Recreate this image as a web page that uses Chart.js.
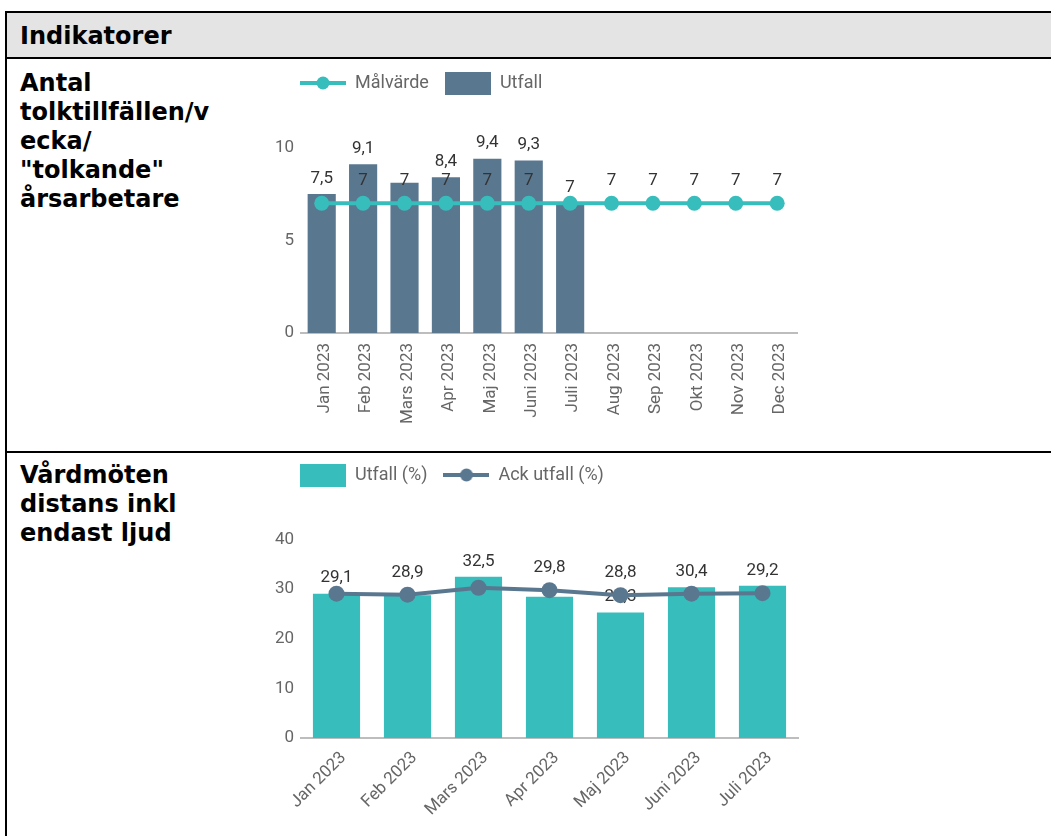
<!DOCTYPE html>
<html>
<head>
<meta charset="utf-8">
<script src="https://cdn.jsdelivr.net/npm/chart.js@4.4.1/dist/chart.umd.min.js"></script>
<style>
  html, body { margin: 0; padding: 0; background: #fff; }
  body { width: 1051px; height: 836px; overflow: hidden; position: relative; }
  .frame { position: absolute; left: 5px; top: 11px; width: 1100px; height: 900px; border: 2px solid #000; box-sizing: border-box; }
  .head { position: absolute; left: 7px; top: 13px; width: 1100px; height: 44px; background: #e4e4e4; }
  .rule { position: absolute; left: 5px; width: 1100px; height: 2px; background: #000; }
  .lbl { position: absolute; left: 20px; font-family: Verdana, "DejaVu Sans", sans-serif; font-weight: bold; font-size: 24px; line-height: 29px; color: #000; white-space: nowrap; }
  canvas { position: absolute; }
</style>
</head>
<body>
<div class="head"></div>
<div class="frame"></div>
<div class="rule" style="top:57px"></div>
<div class="rule" style="top:451px"></div>
<div class="lbl" style="top:22px">Indikatorer</div>
<div class="lbl" style="top:69px">Antal<br>tolktillfällen/v<br>ecka/<br>"tolkande"<br>årsarbetare</div>
<div class="lbl" style="top:461px">Vårdmöten<br>distans inkl<br>endast ljud</div>
<canvas id="c1" width="547" height="396" style="left:261px;top:56px"></canvas>
<canvas id="c2" width="547" height="387" style="left:261px;top:449px"></canvas>
<script>
// ---------- Data: chart 1 ----------
const months1 = ['Jan 2023','Feb 2023','Mars 2023','Apr 2023','Maj 2023','Juni 2023','Juli 2023','Aug 2023','Sep 2023','Okt 2023','Nov 2023','Dec 2023'];
const malvarde = [7, 7, 7, 7, 7, 7, 7, 7, 7, 7, 7, 7];
const utfall1 = [7.5, 9.1, 8.1, 8.4, 9.4, 9.3, 7];
const malvardeLabelShown = [false, true, true, true, true, true, false, true, true, true, true, true];
const utfall1LabelShown = [true, true, false, true, true, true, true];
const yTicks1Step = 5;

// ---------- Data: chart 2 ----------
const months2 = ['Jan 2023','Feb 2023','Mars 2023','Apr 2023','Maj 2023','Juni 2023','Juli 2023'];
const utfall2 = [29.1, 28.8, 32.5, 28.5, 25.3, 30.4, 30.7];
const ackUtfall = [29.1, 28.9, 30.3, 29.8, 28.8, 29.1, 29.2];
const utfall2LabelShown = [true, false, true, false, true, true, false];
const ackLabelShown = [false, true, false, true, true, false, true];
const yTicks2Step = 10;

// ---------- Styling ----------
const SLATE = '#5a7790';
const TEAL = '#37bdbb';
const Y1_MAX = 12.46;
const Y2_MAX = 49.2;

Chart.defaults.font.family = 'Roboto, "Noto Sans", sans-serif';

const fmt = v => String(v).replace('.', ',');

function lineMarker(color) {
  const c = document.createElement('canvas');
  c.width = 46; c.height = 14;
  const x = c.getContext('2d');
  x.strokeStyle = color; x.lineWidth = 4;
  x.beginPath(); x.moveTo(0, 7); x.lineTo(46, 7); x.stroke();
  x.fillStyle = color;
  x.beginPath(); x.arc(23, 7, 6.5, 0, Math.PI * 2); x.fill();
  return c;
}
function boxMarker(color) {
  const c = document.createElement('canvas');
  c.width = 46; c.height = 23;
  const x = c.getContext('2d');
  x.fillStyle = color; x.fillRect(0, 0, 46, 23);
  return c;
}

// value labels drawn right after each dataset (so later datasets paint over them)
const valueLabels = {
  id: 'valueLabels',
  afterDatasetDraw(chart, args) {
    const ds = chart.data.datasets[args.index];
    const meta = args.meta;
    const ctx = chart.ctx;
    ctx.save();
    ctx.font = '17px Roboto, "Noto Sans", sans-serif';
    ctx.fillStyle = '#333';
    ctx.textAlign = 'center';
    ctx.textBaseline = 'middle';
    const off = meta.type === 'bar' ? 15.5 : 22;
    meta.data.forEach((el, i) => {
      const v = ds.data[i];
      if (v == null || (ds.labelShown && !ds.labelShown[i])) return;
      ctx.fillText(fmt(v), el.x, el.y - off);
    });
    ctx.restore();
  }
};

// start the legend row at the left edge of the plot area
const legendAtPlot = {
  id: 'legendAtPlot',
  beforeDraw(chart) {
    const lg = chart.legend;
    if (lg) lg.left = Math.round(chart.chartArea.left) - lg.options.labels.padding - 1;
  }
};

function legendOpts(markers) {
  return {
    position: 'top',
    align: 'start',
    labels: {
      usePointStyle: true,
      pointStyleWidth: 46,
      padding: 16,
      color: '#666',
      font: { size: 18 },
      sort: (a, b) => a.datasetIndex - b.datasetIndex,
      generateLabels: chart => Chart.defaults.plugins.legend.labels.generateLabels(chart)
        .map(l => Object.assign(l, { pointStyle: markers[l.datasetIndex] }))
    }
  };
}

function scales(yMax, step, rot, xH, xPad, xOff) {
  return {
    x: {
      border: { display: true, color: '#bdbdbd', width: 2 },
      grid: { display: false, drawTicks: false },
      ticks: { minRotation: rot, maxRotation: rot, autoSkip: false, padding: xPad, labelOffset: xOff, color: '#666', font: { size: 17 } },
      afterFit: s => { s.height = xH; }
    },
    y: {
      min: 0, max: yMax,
      border: { display: false },
      grid: { display: false, drawTicks: false },
      ticks: { stepSize: step, includeBounds: false, padding: 7, color: '#666', font: { size: 17 } },
      afterFit: s => { s.width = 40; }
    }
  };
}

new Chart(document.getElementById('c1'), {
  type: 'bar',
  data: {
    labels: months1,
    datasets: [
      { type: 'line', label: 'Målvärde', data: malvarde, order: 0,
        borderColor: TEAL, backgroundColor: TEAL, borderWidth: 4,
        pointRadius: 7.5, pointHoverRadius: 7.5, pointBorderWidth: 0, pointBackgroundColor: TEAL,
        labelShown: malvardeLabelShown },
      { type: 'bar', label: 'Utfall', data: utfall1, order: 1,
        backgroundColor: SLATE, borderWidth: 0,
        categoryPercentage: 0.8, barPercentage: 0.85,
        labelShown: utfall1LabelShown }
    ]
  },
  options: {
    responsive: false, animation: false,
    layout: { padding: { left: 0, right: 10, top: 2, bottom: 0 } },
    plugins: { legend: legendOpts([lineMarker(TEAL), boxMarker(SLATE)]), tooltip: { enabled: false } },
    scales: scales(Y1_MAX, yTicks1Step, 90, 119, 10, 3)
  },
  plugins: [valueLabels, legendAtPlot]
});

new Chart(document.getElementById('c2'), {
  type: 'bar',
  data: {
    labels: months2,
    datasets: [
      { type: 'bar', label: 'Utfall (%)', data: utfall2, order: 1,
        backgroundColor: TEAL, borderWidth: 0,
        categoryPercentage: 0.8, barPercentage: 0.83,
        labelShown: utfall2LabelShown },
      { type: 'line', label: 'Ack utfall (%)', data: ackUtfall, order: 0,
        borderColor: SLATE, backgroundColor: SLATE, borderWidth: 4,
        pointRadius: 8, pointHoverRadius: 8, pointBorderWidth: 0, pointBackgroundColor: SLATE,
        labelShown: ackLabelShown }
    ]
  },
  options: {
    responsive: false, animation: false,
    layout: { padding: { left: 0, right: 10, top: 1, bottom: 0 } },
    plugins: { legend: legendOpts([boxMarker(TEAL), lineMarker(SLATE)]), tooltip: { enabled: false } },
    scales: scales(Y2_MAX, yTicks2Step, 45, 98, 10, 7)
  },
  plugins: [valueLabels, legendAtPlot]
});
</script>
</body>
</html>
